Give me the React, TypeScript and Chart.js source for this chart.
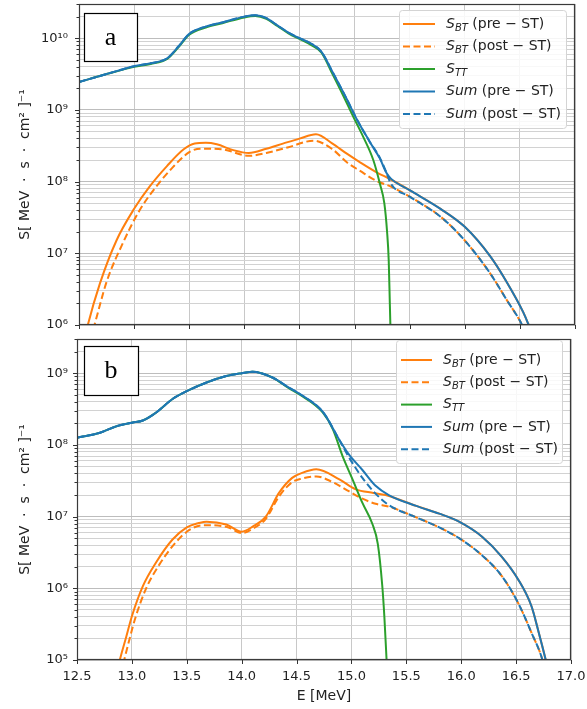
import React, { useEffect, useRef } from 'react';
import { Chart, registerables } from 'chart.js';
Chart.register(...registerables);

// ---------- shared ----------
const X_TICKS = [12.5, 13.0, 13.5, 14.0, 14.5, 15.0, 15.5, 16.0, 16.5, 17.0];
const COLOR_ORANGE = '#ff7f0e';
const COLOR_GREEN = '#2ca02c';
const COLOR_BLUE = '#1f77b4';

// ---------- panel a ----------
const A_SBT_PRE_E = [12.55, 12.58, 12.69, 12.84, 13.0, 13.14, 13.3, 13.45, 13.55, 13.65, 13.75, 13.9, 14.04, 14.2, 14.35, 14.5, 14.65, 14.8, 14.93, 15.05, 15.2, 15.33, 15.5, 15.78, 16.0, 16.23, 16.38, 16.53, 16.58, 16.62];
const A_SBT_PRE_S = [6.31e5, 1.0e6, 3.8e6, 1.51e7, 4.17e7, 8.51e7, 1.66e8, 2.82e8, 3.39e8, 3.47e8, 3.31e8, 2.75e8, 2.51e8, 2.88e8, 3.39e8, 3.98e8, 4.57e8, 3.39e8, 2.45e8, 1.86e8, 1.35e8, 1.07e8, 7.59e7, 4.17e7, 2.34e7, 9.12e6, 3.98e6, 1.51e6, 1.0e6, 7.08e5];

const A_SBT_POST_E = [12.6, 12.64, 12.75, 12.9, 13.05, 13.2, 13.35, 13.5, 13.6, 13.8, 14.04, 14.2, 14.4, 14.63, 14.8, 14.93, 15.05, 15.2, 15.33, 15.5, 15.78, 16.0, 16.23, 16.38, 16.52, 16.56];
const A_SBT_POST_S = [6.31e5, 1.0e6, 3.98e6, 1.41e7, 3.98e7, 8.51e7, 1.58e8, 2.57e8, 2.88e8, 2.82e8, 2.29e8, 2.51e8, 3.02e8, 3.72e8, 2.82e8, 1.86e8, 1.41e8, 1.02e8, 8.51e7, 6.17e7, 3.24e7, 1.51e7, 5.25e6, 2.24e6, 1.0e6, 7.08e5];

const A_STT_E = [12.5, 12.75, 13.0, 13.15, 13.3, 13.4, 13.5, 13.65, 13.8, 14.0, 14.1, 14.2, 14.3, 14.4, 14.5, 14.6, 14.7, 14.8, 14.9, 14.99, 15.08, 15.17, 15.23, 15.27, 15.295, 15.31, 15.32, 15.33];
const A_STT_S = [2.45e9, 3.16e9, 3.98e9, 4.37e9, 5.13e9, 7.41e9, 1.12e10, 1.41e10, 1.62e10, 1.95e10, 2.04e10, 1.86e10, 1.48e10, 1.17e10, 9.77e9, 8.13e9, 6.31e9, 3.16e9, 1.55e9, 7.94e8, 4.17e8, 2.0e8, 9.33e7, 5.01e7, 2.0e7, 7.94e6, 2.0e6, 5.01e5];

const A_SUM_PRE_E = [12.5, 12.75, 13.0, 13.15, 13.3, 13.4, 13.5, 13.65, 13.8, 14.0, 14.1, 14.2, 14.3, 14.4, 14.5, 14.6, 14.7, 14.8, 14.93, 15.02, 15.14, 15.23, 15.29, 15.33, 15.5, 15.78, 16.0, 16.23, 16.38, 16.53, 16.58, 16.62];
const A_SUM_PRE_S = [2.45e9, 3.16e9, 4.07e9, 4.47e9, 5.25e9, 7.59e9, 1.15e10, 1.45e10, 1.66e10, 2.0e10, 2.09e10, 1.91e10, 1.51e10, 1.2e10, 1.0e10, 8.51e9, 6.46e9, 3.39e9, 1.41e9, 7.41e8, 3.55e8, 2.09e8, 1.32e8, 1.1e8, 7.59e7, 4.17e7, 2.34e7, 9.12e6, 3.98e6, 1.51e6, 1.0e6, 7.08e5];

const A_SUM_POST_E = [12.5, 12.75, 13.0, 13.15, 13.3, 13.4, 13.5, 13.65, 13.8, 14.0, 14.1, 14.2, 14.3, 14.4, 14.5, 14.6, 14.7, 14.8, 14.93, 15.02, 15.14, 15.23, 15.29, 15.33, 15.5, 15.78, 16.0, 16.23, 16.38, 16.52, 16.56];
const A_SUM_POST_S = [2.45e9, 3.16e9, 4.07e9, 4.47e9, 5.25e9, 7.59e9, 1.15e10, 1.45e10, 1.66e10, 2.0e10, 2.09e10, 1.91e10, 1.51e10, 1.2e10, 1.0e10, 8.51e9, 6.46e9, 3.39e9, 1.41e9, 7.41e8, 3.55e8, 2.14e8, 1.32e8, 9.33e7, 6.17e7, 3.24e7, 1.51e7, 5.25e6, 2.24e6, 1.0e6, 7.08e5];

// ---------- panel b ----------
const B_SBT_PRE_E = [12.86, 12.89, 12.95, 13.0, 13.1, 13.22, 13.37, 13.5, 13.61, 13.68, 13.86, 14.0, 14.1, 14.22, 14.34, 14.46, 14.55, 14.68, 14.89, 15.04, 15.2, 15.31, 15.59, 15.8, 15.98, 16.19, 16.37, 16.52, 16.64, 16.7, 16.77, 16.8];
const B_SBT_PRE_S = [6.31e4, 1.0e5, 2.14e5, 4.07e5, 1.07e6, 2.29e6, 4.79e6, 7.08e6, 8.13e6, 8.51e6, 7.76e6, 6.17e6, 7.24e6, 1.0e7, 2.14e7, 3.47e7, 4.07e7, 4.57e7, 3.31e7, 2.4e7, 2.14e7, 2.0e7, 1.41e7, 1.1e7, 8.51e6, 5.25e6, 2.75e6, 1.32e6, 5.62e5, 2.63e5, 1.0e5, 6.31e4];

const B_SBT_POST_E = [12.9, 12.93, 12.98, 13.03, 13.13, 13.25, 13.4, 13.52, 13.65, 13.86, 14.0, 14.1, 14.22, 14.34, 14.46, 14.55, 14.68, 14.83, 14.98, 15.1, 15.22, 15.34, 15.59, 15.8, 15.98, 16.19, 16.37, 16.52, 16.64, 16.74, 16.77];
const B_SBT_POST_S = [6.31e4, 1.0e5, 2.0e5, 3.8e5, 1.0e6, 2.14e6, 4.37e6, 6.46e6, 7.59e6, 7.24e6, 5.89e6, 6.76e6, 9.33e6, 1.91e7, 3.02e7, 3.39e7, 3.63e7, 3.02e7, 2.24e7, 1.78e7, 1.51e7, 1.38e7, 9.77e6, 7.08e6, 5.01e6, 2.88e6, 1.48e6, 6.17e5, 2.4e5, 1.0e5, 6.31e4];

const B_STT_E = [12.5, 12.71, 12.86, 13.0, 13.1, 13.22, 13.37, 13.5, 13.68, 13.86, 14.0, 14.1, 14.28, 14.43, 14.53, 14.74, 14.83, 14.92, 15.01, 15.1, 15.19, 15.24, 15.28, 15.3, 15.32, 15.33];
const B_STT_S = [1.26e8, 1.48e8, 1.82e8, 2.04e8, 2.19e8, 2.82e8, 4.37e8, 5.62e8, 7.41e8, 9.12e8, 1.0e9, 1.05e9, 8.71e8, 6.17e8, 5.01e8, 2.82e8, 1.66e8, 6.92e7, 3.31e7, 1.55e7, 7.94e6, 4.17e6, 1.12e6, 3.98e5, 1.0e5, 5.0e4];

const B_SUM_PRE_E = [12.5, 12.71, 12.86, 13.0, 13.1, 13.22, 13.37, 13.5, 13.68, 13.86, 14.0, 14.1, 14.28, 14.43, 14.53, 14.74, 14.89, 14.98, 15.1, 15.22, 15.34, 15.59, 15.8, 15.98, 16.19, 16.37, 16.52, 16.64, 16.7, 16.77, 16.8];
const B_SUM_PRE_S = [1.26e8, 1.48e8, 1.82e8, 2.04e8, 2.19e8, 2.82e8, 4.37e8, 5.62e8, 7.41e8, 9.12e8, 1.0e9, 1.05e9, 8.71e8, 6.31e8, 5.13e8, 2.88e8, 1.17e8, 7.24e7, 4.47e7, 2.69e7, 2.0e7, 1.41e7, 1.1e7, 8.51e6, 5.25e6, 2.75e6, 1.32e6, 5.62e5, 2.63e5, 1.0e5, 6.31e4];

const B_SUM_POST_E = [12.5, 12.71, 12.86, 13.0, 13.1, 13.22, 13.37, 13.5, 13.68, 13.86, 14.0, 14.1, 14.28, 14.43, 14.53, 14.74, 14.89, 14.98, 15.1, 15.22, 15.34, 15.59, 15.8, 15.98, 16.19, 16.37, 16.52, 16.64, 16.74, 16.77];
const B_SUM_POST_S = [1.26e8, 1.48e8, 1.82e8, 2.04e8, 2.19e8, 2.82e8, 4.37e8, 5.62e8, 7.41e8, 9.12e8, 1.0e9, 1.05e9, 8.71e8, 6.31e8, 5.13e8, 2.88e8, 1.17e8, 6.61e7, 3.47e7, 2.09e7, 1.45e7, 9.77e6, 7.08e6, 5.01e6, 2.88e6, 1.48e6, 6.17e5, 2.4e5, 1.0e5, 6.31e4];

// ---------- legend text ----------
type Seg = { t: string; italic?: boolean; sub?: boolean };
const LEGEND_TEXT: Seg[][] = [
  [{ t: 'S', italic: true }, { t: 'BT', italic: true, sub: true }, { t: ' (pre − ST)' }],
  [{ t: 'S', italic: true }, { t: 'BT', italic: true, sub: true }, { t: ' (post − ST)' }],
  [{ t: 'S', italic: true }, { t: 'TT', italic: true, sub: true }],
  [{ t: 'Sum', italic: true }, { t: ' (pre − ST)' }],
  [{ t: 'Sum', italic: true }, { t: ' (post − ST)' }],
];
const Y_TITLE = 'S[ MeV  ·  s  ·  cm² ]⁻¹';
const X_TITLE = 'E [MeV]';

const FONT = '"DejaVu Sans", sans-serif';
const SUP: Record<string, string> = { '0': '⁰', '1': '¹', '2': '²', '3': '³', '4': '⁴', '5': '⁵', '6': '⁶', '7': '⁷', '8': '⁸', '9': '⁹', '-': '⁻' };
const isDecade = (v: number) => Math.abs(Math.log10(v) - Math.round(Math.log10(v))) < 1e-6;
const supLabel = (v: number) => '10' + String(Math.round(Math.log10(v))).split('').map(c => SUP[c]).join('');

type SeriesDef = { e: number[]; s: number[]; color: string; dash: number[] };

type PanelProps = {
  top: number;
  height: number;
  area: { left: number; right: number; top: number; bottom: number };
  yMin: number;
  yMax: number;
  series: SeriesDef[];
  letter: string;
  letterBox: { x: number; y: number; w: number; h: number };
  legend: { x: number; y: number; w: number; h: number; row0: number; dy: number; l0: number; l1: number; tx: number };
  showX: boolean;
  yTickPad: number;
};

const W = 587;
const DASH = [7, 3.5];

function Panel(p: PanelProps) {
  const ref = useRef<HTMLCanvasElement | null>(null);
  useEffect(() => {
    if (!ref.current) return;
    const decor = {
      id: 'decor',
      afterDraw(chart: any) {
        const { ctx, chartArea: ca, scales } = chart;
        ctx.save();
        ctx.strokeStyle = '#333';
        ctx.lineWidth = 1;
        ctx.setLineDash([]);
        // y tick marks
        scales.y.ticks.forEach((t: any) => {
          const y = Math.round(scales.y.getPixelForValue(t.value)) + 0.5;
          const len = isDecade(t.value) ? 4 : 2.5;
          ctx.beginPath();
          ctx.moveTo(ca.left - len, y);
          ctx.lineTo(ca.left, y);
          ctx.stroke();
        });
        // x tick marks
        scales.x.ticks.forEach((t: any) => {
          const x = Math.round(scales.x.getPixelForValue(t.value)) + 0.5;
          ctx.beginPath();
          ctx.moveTo(x, ca.bottom);
          ctx.lineTo(x, ca.bottom + 4);
          ctx.stroke();
        });
        // frame
        ctx.strokeStyle = '#3a3a3a';
        ctx.lineWidth = 1.2;
        ctx.strokeRect(ca.left + 0.5, ca.top + 0.5, ca.right - ca.left - 1, ca.bottom - ca.top - 1);
        // legend
        const L = p.legend;
        ctx.fillStyle = 'rgba(255,255,255,0.85)';
        ctx.strokeStyle = '#d4d4d4';
        ctx.lineWidth = 1;
        ctx.beginPath();
        (ctx as any).roundRect(L.x + 0.5, L.y + 0.5, L.w, L.h, 3);
        ctx.fill();
        ctx.stroke();
        p.series.forEach((s, i) => {
          const y = L.row0 + i * L.dy;
          ctx.strokeStyle = s.color;
          ctx.lineWidth = 2;
          ctx.setLineDash(s.dash);
          ctx.beginPath();
          ctx.moveTo(L.l0, y);
          ctx.lineTo(L.l1, y);
          ctx.stroke();
          ctx.setLineDash([]);
          let cx = L.tx;
          ctx.fillStyle = '#222';
          ctx.textBaseline = 'middle';
          ctx.textAlign = 'left';
          LEGEND_TEXT[i].forEach(seg => {
            const size = seg.sub ? 10 : 14;
            ctx.font = `${seg.italic ? 'italic ' : ''}${size}px ${FONT}`;
            ctx.fillText(seg.t, cx, y + (seg.sub ? 4 : 0));
            cx += ctx.measureText(seg.t).width;
          });
        });
        // letter box
        const B = p.letterBox;
        ctx.fillStyle = '#fff';
        ctx.fillRect(B.x, B.y, B.w, B.h);
        ctx.strokeStyle = '#000';
        ctx.lineWidth = 1.2;
        ctx.strokeRect(B.x + 0.5, B.y + 0.5, B.w, B.h);
        ctx.fillStyle = '#000';
        ctx.font = `26px "Liberation Serif", serif`;
        ctx.textAlign = 'center';
        ctx.textBaseline = 'middle';
        ctx.fillText(p.letter, B.x + B.w / 2, B.y + B.h / 2 + 1);
        ctx.restore();
      },
    };

    const n = p.series.length;
    const chart = new Chart(ref.current, {
      type: 'line',
      data: {
        datasets: p.series.map((s, i) => ({
          data: s.e.map((x, k) => ({ x, y: s.s[k] })),
          borderColor: s.color,
          borderWidth: 2,
          borderDash: s.dash,
          pointRadius: 0,
          fill: false,
          cubicInterpolationMode: 'monotone',
          tension: 0.4,
          order: n - 1 - i,
        })),
      },
      options: {
        animation: false,
        responsive: false,
        devicePixelRatio: 1,
        layout: { padding: { left: 0, right: W - p.area.right, top: p.area.top, bottom: 0 } },
        plugins: { legend: { display: false }, tooltip: { enabled: false } },
        scales: {
          x: {
            type: 'linear',
            min: 12.5,
            max: 17,
            afterBuildTicks: (s: any) => { s.ticks = X_TICKS.map(v => ({ value: v })); },
            afterFit: (s: any) => { s.height = p.height - p.area.bottom; s.paddingLeft = 0; s.paddingRight = 0; },
            ticks: {
              display: p.showX,
              padding: 9,
              autoSkip: false,
              maxRotation: 0,
              color: '#222',
              font: { family: FONT, size: 13 },
              callback: (v: any) => Number(v).toFixed(1),
            },
            grid: { color: '#c8c8c8', lineWidth: 1, drawTicks: false },
            border: { display: false },
            title: { display: p.showX, text: X_TITLE, color: '#222', font: { family: FONT, size: 14 }, padding: { top: 0, bottom: 4 } },
          },
          y: {
            type: 'logarithmic',
            min: p.yMin,
            max: p.yMax,
            afterBuildTicks: (s: any) => {
              const t: any[] = [];
              const e0 = Math.floor(Math.log10(p.yMin));
              const e1 = Math.ceil(Math.log10(p.yMax));
              for (let e = e0; e <= e1; e++) {
                for (let m = 1; m <= 9; m++) {
                  const v = m * Math.pow(10, e);
                  if (v >= p.yMin * 0.999 && v <= p.yMax * 1.001) t.push({ value: v });
                }
              }
              s.ticks = t;
            },
            afterFit: (s: any) => { s.width = p.area.left; s.paddingTop = 0; s.paddingBottom = 0; },
            ticks: {
              autoSkip: false,
              padding: p.yTickPad,
              color: '#222',
              font: { family: FONT, size: 13 },
              callback: (v: any) => (isDecade(Number(v)) ? supLabel(Number(v)) : ''),
            },
            grid: {
              color: (c: any) => (c.tick && isDecade(c.tick.value) ? '#bdbdbd' : '#d2d2d2'),
              lineWidth: 1,
              drawTicks: false,
            },
            border: { display: false },
            title: { display: true, text: Y_TITLE, color: '#222', font: { family: FONT, size: 14 }, padding: { top: 17, bottom: 0 } },
          },
        },
      } as any,
      plugins: [decor as any],
    });
    return () => chart.destroy();
  }, []);
  return (
    <canvas
      ref={ref}
      width={W}
      height={p.height}
      style={{ position: 'absolute', left: 0, top: p.top, width: W, height: p.height }}
    />
  );
}

export default function App() {
  const seriesA: SeriesDef[] = [
    { e: A_SBT_PRE_E, s: A_SBT_PRE_S, color: COLOR_ORANGE, dash: [] },
    { e: A_SBT_POST_E, s: A_SBT_POST_S, color: COLOR_ORANGE, dash: DASH },
    { e: A_STT_E, s: A_STT_S, color: COLOR_GREEN, dash: [] },
    { e: A_SUM_PRE_E, s: A_SUM_PRE_S, color: COLOR_BLUE, dash: [] },
    { e: A_SUM_POST_E, s: A_SUM_POST_S, color: COLOR_BLUE, dash: DASH },
  ];
  const seriesB: SeriesDef[] = [
    { e: B_SBT_PRE_E, s: B_SBT_PRE_S, color: COLOR_ORANGE, dash: [] },
    { e: B_SBT_POST_E, s: B_SBT_POST_S, color: COLOR_ORANGE, dash: DASH },
    { e: B_STT_E, s: B_STT_S, color: COLOR_GREEN, dash: [] },
    { e: B_SUM_PRE_E, s: B_SUM_PRE_S, color: COLOR_BLUE, dash: [] },
    { e: B_SUM_POST_E, s: B_SUM_POST_S, color: COLOR_BLUE, dash: DASH },
  ];
  return (
    <div style={{ position: 'absolute', left: 0, top: 0, width: W, height: 709, background: '#fff' }}>
      <Panel
        top={0}
        height={336}
        area={{ left: 79, right: 575, top: 4, bottom: 325 }}
        yMin={1e6}
        yMax={3e10}
        series={seriesA}
        letter="a"
        letterBox={{ x: 84, y: 13, w: 53, h: 48 }}
        legend={{ x: 399, y: 10, w: 167, h: 118, row0: 24, dy: 22.5, l0: 403, l1: 435, tx: 446 }}
        showX={false}
        yTickPad={11}
      />
      <Panel
        top={336}
        height={373}
        area={{ left: 77, right: 571, top: 3, bottom: 324 }}
        yMin={1e5}
        yMax={3e9}
        series={seriesB}
        letter="b"
        letterBox={{ x: 84, y: 10, w: 54, h: 49 }}
        legend={{ x: 396, y: 4, w: 166, h: 123, row0: 24, dy: 22.3, l0: 401, l1: 432, tx: 443 }}
        showX={true}
        yTickPad={9}
      />
    </div>
  );
}
